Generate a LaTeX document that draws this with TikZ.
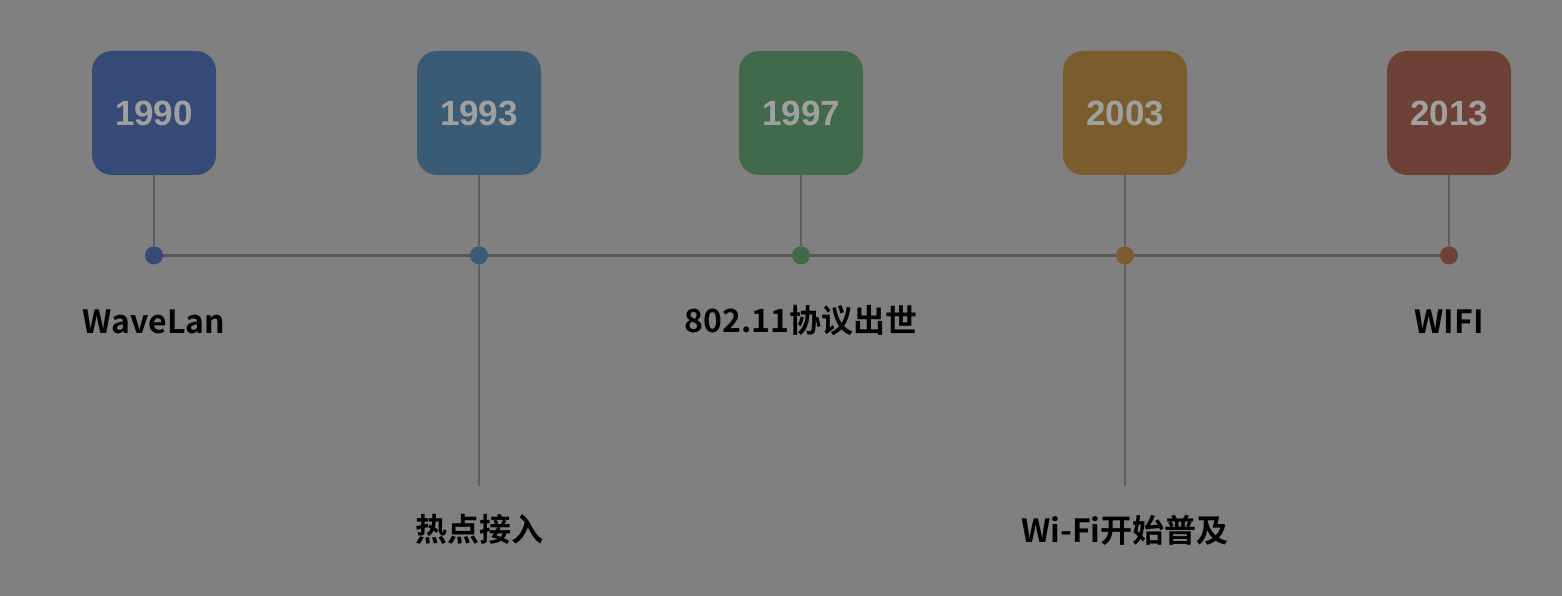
\documentclass[tikz,border=0pt]{standalone}
\usepackage{fontspec}
\setmainfont{Liberation Sans}
\newfontfamily\cjk{Noto Sans CJK SC Bold}
\usetikzlibrary{positioning}
\definecolor{Backdrop}{HTML}{808080}
\definecolor{StemGray}{HTML}{5E5E5E}
\definecolor{YearGray}{HTML}{A0A0A0}
\definecolor{Blue1990}{HTML}{354A77}
\definecolor{Steel1993}{HTML}{395B76}
\definecolor{Green1997}{HTML}{41694B}
\definecolor{Ochre2003}{HTML}{7B5C2C}
\definecolor{Brick2013}{HTML}{6E4137}
\tikzstyle{year} = [rectangle, rounded corners=20pt, minimum size=124pt,
inner sep=0pt, text=YearGray, font=\fontsize{35}{35}\selectfont\bfseries]
\tikzstyle{milestone} = [circle, minimum size=18pt, inner sep=0pt]
\tikzstyle{event} = [font=\cjk\fontsize{32}{32}\selectfont, text=black,
inner sep=0pt, anchor=base]
\tikzstyle{stemline} = [draw=StemGray, line width=2pt]
\tikzstyle{axisline} = [draw=StemGray!95!black, line width=3pt]

\begin{document}
\begin{tikzpicture}[x=1pt, y=-1pt]
	\fill[Backdrop] (0,0) rectangle (1562,596);
	\useasboundingbox (0,0) rectangle (1562,596);

	\node[year, fill=Blue1990] (y1990) at (154,113) {1990};
	\node[year, fill=Steel1993] (y1993) at (479,113) {1993};
	\node[year, fill=Green1997] (y1997) at (801,113) {1997};
	\node[year, fill=Ochre2003] (y2003) at (1125,113) {2003};
	\node[year, fill=Brick2013] (y2013) at (1449,113) {2013};

	\node[milestone, fill=Blue1990] (d1990) [below=71pt of y1990] {};
	\node[milestone, fill=Steel1993] (d1993) [below=71pt of y1993] {};
	\node[milestone, fill=Green1997] (d1997) [below=71pt of y1997] {};
	\node[milestone, fill=Ochre2003] (d2003) [below=71pt of y2003] {};
	\node[milestone, fill=Brick2013] (d2013) [below=71pt of y2013] {};
	\coordinate[below=221pt of d1993.south] (t1993);
	\coordinate[below=221pt of d2003.south] (t2003);

	\draw[stemline] (y1990) -- (d1990);
	\draw[stemline] (y1993) -- (d1993);
	\draw[stemline] (y1997) -- (d1997);
	\draw[stemline] (y2003) -- (d2003);
	\draw[stemline] (y2013) -- (d2013);
	\draw[axisline] (d1990) -- (d1993);
	\draw[axisline] (d1993) -- (d1997);
	\draw[axisline] (d1997) -- (d2003);
	\draw[axisline] (d2003) -- (d2013);
	\draw[stemline] (d1993) -- (t1993);
	\draw[stemline] (d2003) -- (t2003);

	\node[event] (wavelan) at (154,333) {WaveLan};
	\node[event] (hotspot) at (479,541) {热点接入};
	\node[event] (ieee) at (801,332) {802.11协议出世};
	\node[event] (spread) at (1125,542) {Wi-Fi开始普及};
	\node[event] (wifi) at (1449,333) {WIFI};
\end{tikzpicture}
\end{document}
